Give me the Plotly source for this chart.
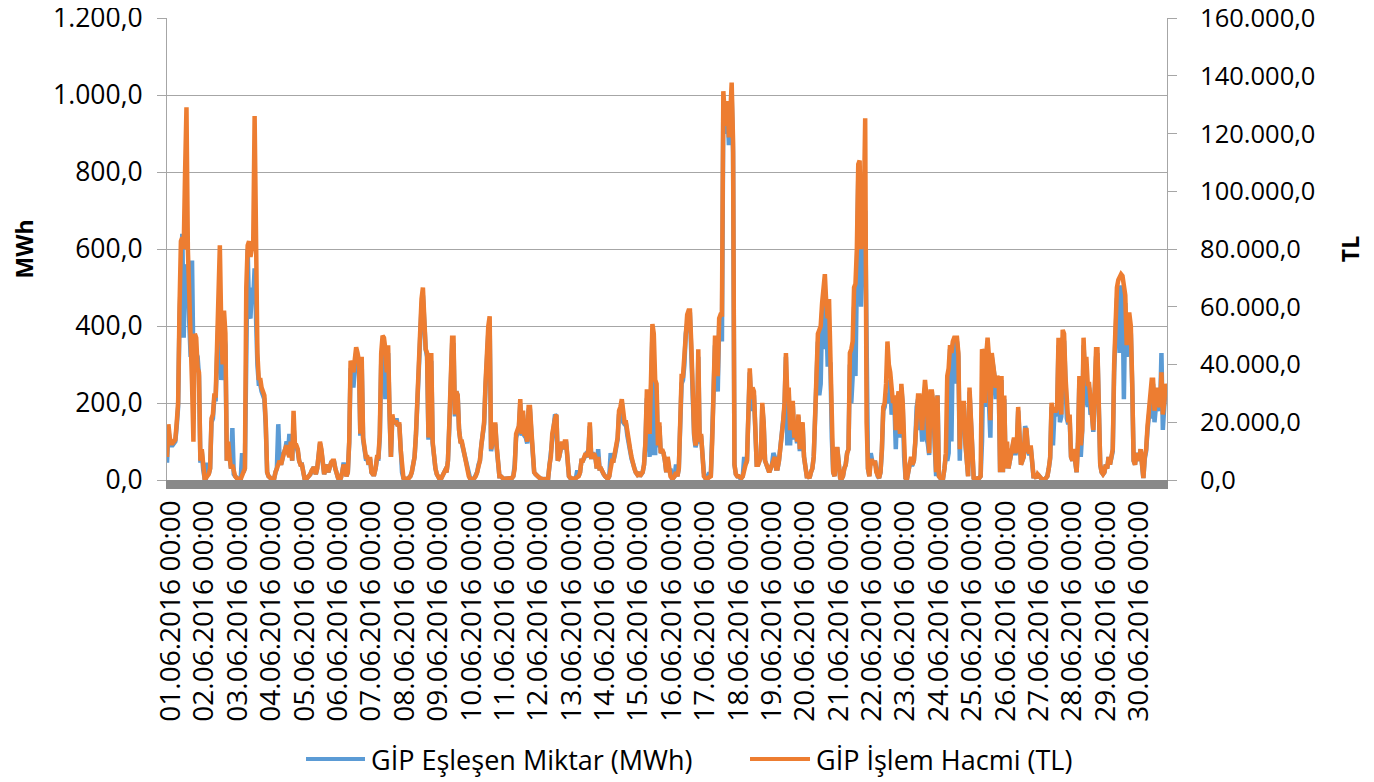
'''
GİP hourly matched volume (MWh) and trade volume (TL), June 2016
Dual axis line chart, Excel style
'''
import plotly.graph_objects as go

### Data: hourly values, one list per day ###

# GİP Eşleşen Miktar (MWh)
MWH_D01 = [45,130,100,90,90,95,100,140,190,420,600,640,370,535,560,540,410,320,570,300,330,330,320,270]
MWH_D02 = [45,75,28,5,5,45,15,30,150,160,210,210,320,420,420,260,290,380,350,50,95,60,30,135]
MWH_D03 = [15,10,5,2,2,2,70,20,30,480,600,430,420,500,470,550,370,300,250,250,230,220,210,140]
MWH_D04 = [20,10,5,3,2,3,20,30,145,50,40,60,70,80,100,70,120,100,50,140,85,85,75,50]
MWH_D05 = [40,40,15,2,2,5,10,15,25,30,30,15,30,75,95,75,30,15,30,40,20,40,45,45]
MWH_D06 = [50,30,10,5,3,5,20,45,30,10,20,95,290,280,240,300,330,320,300,115,300,105,75,55]
MWH_D07 = [55,40,55,20,15,15,30,55,55,110,300,350,340,210,270,330,170,60,160,150,145,160,140,145]
MWH_D08 = [75,20,5,3,2,3,5,10,20,40,60,115,190,320,400,450,480,370,340,320,105,240,310,95]
MWH_D09 = [50,30,15,5,2,3,10,20,25,20,50,140,280,350,350,165,230,220,130,100,95,80,60,50]
MWH_D10 = [30,10,3,2,2,5,10,20,40,50,90,135,145,240,350,380,400,75,95,115,145,85,30,10]
MWH_D11 = [10,5,3,3,3,3,5,3,5,10,40,110,125,135,200,115,170,115,110,95,180,180,120,45]
MWH_D12 = [20,15,10,8,5,3,2,2,2,2,3,40,60,115,150,170,165,50,60,80,95,80,95,95]
MWH_D13 = [30,10,5,3,3,3,5,25,10,20,50,50,60,65,60,75,140,60,60,65,60,30,80,30]
MWH_D14 = [30,20,15,10,5,3,10,70,50,50,65,85,105,170,180,200,150,145,145,115,85,75,55,40]
MWH_D15 = [30,20,15,20,10,15,20,40,95,210,220,60,300,380,70,70,230,85,140,70,75,70,50,20]
MWH_D16 = [55,20,30,5,5,10,40,10,30,140,250,260,300,380,420,430,430,330,170,115,85,100,320,95]
MWH_D17 = [115,60,20,5,3,5,20,10,95,230,350,280,230,400,410,360,980,930,900,960,870,930,1000,850]
MWH_D18 = [40,15,10,10,5,5,10,60,40,50,240,280,200,180,220,145,40,40,50,60,190,145,50,40]
MWH_D19 = [30,20,30,40,70,60,30,30,50,80,115,145,190,320,90,230,90,195,190,105,145,95,165,75]
MWH_D20 = [125,145,60,30,10,10,5,20,30,60,190,290,360,220,250,430,480,340,440,300,300,300,110,20]
MWH_D21 = [10,80,80,20,5,3,10,30,40,70,80,300,200,270,450,270,580,780,800,450,600,560,700,140]
MWH_D22 = [30,10,70,50,40,50,20,10,5,20,75,180,190,220,220,200,260,170,190,200,80,190,210,110]
MWH_D23 = [240,190,60,5,2,20,40,40,40,50,95,190,210,130,160,100,200,240,110,95,65,220,220,190]
MWH_D24 = [85,10,220,10,5,5,5,30,65,50,70,340,100,350,360,250,360,320,50,190,190,190,95,40]
MWH_D25 = [10,230,145,40,5,3,3,3,5,10,100,320,190,310,360,200,110,320,290,270,210,260,250,20]
MWH_D26 = [260,20,210,30,80,30,50,75,95,105,65,85,180,125,40,50,60,140,125,75,65,85,55,10]
MWH_D27 = [10,5,15,10,3,2,2,2,5,10,30,55,190,90,170,170,180,350,150,165,370,360,260,160]
MWH_D28 = [145,160,60,50,75,50,20,95,260,60,125,350,270,210,190,240,170,175,125,220,320,330,190,40]
MWH_D29 = [20,15,20,40,30,60,40,60,75,280,430,470,490,330,500,500,210,460,320,400,410,380,240,50]
MWH_D30 = [40,70,60,50,80,30,5,55,75,130,170,200,160,250,150,190,230,190,180,330,130,190,240,220]

# GİP İşlem Hacmi, in thousand TL
TLK_D01 = [8.0,19.3,14.7,12.7,12.7,13.3,14.0,20.0,26.7,60.0,82.7,84.0,80.0,106.7,129.1,80.0,66.7,50.7,33.3,13.3,50.7,49.3,38.7,37.3]
TLK_D02 = [6.7,10.7,4.0,0.7,0.7,1.3,2.0,4.0,21.3,22.7,29.3,29.3,44.0,57.3,81.3,53.3,40.0,58.7,50.7,6.7,13.3,8.0,4.0,5.3]
TLK_D03 = [2.0,1.3,0.7,0.3,0.3,0.3,1.3,2.7,4.0,66.7,81.3,82.7,77.3,80.0,82.7,126.1,74.7,44.0,34.7,35.3,32.0,30.7,29.3,20.0]
TLK_D04 = [2.7,1.3,0.7,0.4,0.3,0.4,2.7,4.0,5.3,6.7,5.3,8.0,9.3,10.7,12.0,9.3,8.0,13.3,6.7,24.0,12.0,12.0,10.7,6.7]
TLK_D05 = [5.3,5.3,2.0,0.3,0.3,0.7,1.3,2.0,3.3,4.0,4.0,2.0,4.0,10.7,13.3,10.7,4.0,2.0,4.0,5.3,2.7,5.3,6.0,6.7]
TLK_D06 = [6.7,4.0,1.3,0.7,0.4,0.7,2.7,5.3,4.0,1.3,2.7,13.3,41.3,40.0,37.3,42.7,46.0,44.0,41.3,16.0,42.7,14.7,10.7,8.0]
TLK_D07 = [8.0,5.3,8.0,2.7,2.0,2.0,4.0,8.0,8.0,16.0,44.0,50.0,49.3,45.3,37.3,46.7,24.0,8.0,22.7,20.0,20.0,20.0,18.7,20.0]
TLK_D08 = [10.7,2.7,0.7,0.4,0.3,0.4,0.7,1.3,2.7,5.3,8.0,16.0,26.7,44.0,56.0,62.7,66.7,56.0,45.3,44.0,14.7,33.3,44.0,13.3]
TLK_D09 = [6.7,4.0,2.0,0.7,0.3,0.4,1.3,2.7,3.3,2.7,6.7,20.0,40.0,49.3,49.3,22.7,30.7,29.3,17.3,13.3,13.3,10.7,8.0,6.7]
TLK_D10 = [4.0,1.3,0.4,0.3,0.3,0.7,1.3,2.7,5.3,6.7,12.0,18.7,20.0,33.3,49.3,53.3,56.7,10.7,13.3,16.0,20.0,12.0,4.0,1.3]
TLK_D11 = [1.3,0.7,0.4,0.4,0.4,0.4,0.7,0.4,0.7,1.3,4.0,16.0,17.3,18.7,28.0,16.0,24.0,16.0,16.0,13.3,25.3,25.3,17.3,6.7]
TLK_D12 = [2.7,2.0,1.3,1.1,0.7,0.4,0.3,0.3,0.3,0.3,0.4,5.3,8.0,16.0,20.0,21.3,22.7,6.7,8.0,10.7,13.3,10.7,13.3,13.3]
TLK_D13 = [4.0,1.3,0.7,0.4,0.4,0.4,0.7,1.3,1.3,2.7,6.7,6.7,8.0,9.3,8.0,10.7,20.0,8.0,8.0,9.3,8.0,4.0,8.0,4.0]
TLK_D14 = [4.0,2.7,2.0,1.3,0.7,0.4,1.3,5.3,6.7,6.7,9.3,12.0,14.7,24.0,25.3,28.0,21.3,20.0,20.0,16.0,12.0,10.7,8.0,5.3]
TLK_D15 = [4.0,2.7,2.0,2.7,1.3,2.0,2.7,5.3,13.3,30.7,30.7,16.0,44.0,54.0,50.7,34.7,33.3,12.0,20.0,9.3,10.7,9.3,6.7,2.7]
TLK_D16 = [8.0,2.7,1.3,0.7,0.7,1.3,2.7,1.3,4.0,20.0,36.0,36.0,45.3,53.3,57.3,58.7,58.7,46.7,24.0,16.0,12.0,14.7,45.3,13.3]
TLK_D17 = [16.0,8.0,1.3,0.7,0.4,0.7,1.3,1.3,13.3,32.0,49.3,49.3,36.0,56.0,57.3,57.3,134.7,126.7,122.7,131.3,118.7,126.7,137.7,117.3]
TLK_D18 = [5.3,2.0,1.3,1.3,0.7,0.7,1.3,4.0,5.3,6.7,33.3,38.7,28.0,32.0,30.7,20.0,5.3,5.3,6.7,8.0,26.7,20.0,6.7,5.3]
TLK_D19 = [4.0,2.7,4.0,5.3,6.7,8.0,4.0,4.0,6.7,10.7,16.0,20.0,26.7,44.0,29.3,32.0,17.3,26.7,26.7,14.7,20.0,13.3,22.7,10.7]
TLK_D20 = [17.3,20.0,8.0,4.0,1.3,1.3,0.7,2.7,4.0,8.0,26.7,40.0,50.7,52.0,53.3,61.3,66.7,71.3,61.3,56.0,62.7,44.0,16.0,2.7]
TLK_D21 = [1.3,10.7,10.7,2.7,0.7,0.4,1.3,4.0,5.3,9.3,10.7,44.0,45.3,48.0,66.7,68.0,80.0,109.3,110.7,80.0,86.7,93.3,125.3,20.0]
TLK_D22 = [4.0,1.3,6.7,6.7,5.3,6.7,2.7,1.3,0.7,2.7,10.7,25.3,26.7,33.3,48.0,40.0,37.3,32.0,26.7,29.3,17.3,26.7,30.7,16.0]
TLK_D23 = [33.3,26.7,8.0,0.7,0.3,2.7,5.3,8.0,5.3,6.7,13.3,26.7,29.3,29.3,22.7,17.3,28.0,34.7,29.3,13.3,9.3,30.7,30.7,26.7]
TLK_D24 = [12.0,2.7,29.3,1.3,0.7,0.7,0.7,4.0,9.3,36.0,38.7,46.7,44.0,48.0,49.3,49.3,49.3,44.0,10.7,26.7,26.7,26.7,13.3,5.3]
TLK_D25 = [1.3,32.0,20.0,5.3,0.7,0.4,0.4,0.4,0.7,1.3,45.3,44.0,26.7,42.7,49.3,42.7,20.7,44.0,40.0,37.3,32.0,36.0,34.7,2.7]
TLK_D26 = [36.0,2.7,29.3,4.0,13.3,4.0,6.7,10.7,13.3,14.7,9.3,12.0,25.3,17.3,5.3,6.7,8.0,17.3,17.3,10.7,9.3,12.0,8.0,1.3]
TLK_D27 = [1.3,0.7,2.0,1.3,0.4,0.3,0.3,0.3,0.7,1.3,4.0,8.0,26.7,24.0,24.0,24.0,25.3,49.3,26.7,22.7,52.0,50.7,36.0,22.7]
TLK_D28 = [20.0,22.7,8.0,6.7,10.7,6.7,2.7,13.3,36.0,12.0,17.3,49.3,37.3,42.7,33.3,33.3,26.7,24.0,17.3,30.7,45.3,45.3,26.7,5.3]
TLK_D29 = [2.7,2.0,2.7,5.3,4.0,8.0,5.3,8.0,10.7,40.0,61.3,66.7,69.3,70.7,71.3,70.7,66.7,64.0,46.7,57.3,57.3,53.3,33.3,6.7]
TLK_D30 = [5.3,9.3,8.0,6.7,10.7,4.0,0.7,8.0,10.7,18.7,24.0,29.3,34.7,34.7,24.0,26.7,32.0,26.7,25.3,37.3,22.7,26.7,33.3,30.7]

# Day labels on the category axis
DAYS = ["%02d.06.2016" % d for d in range(1, 31)]

SERIES_MWH = "GİP Eşleşen Miktar (MWh)"
SERIES_TL  = "GİP İşlem Hacmi (TL)"

# Axis ticks
MWH_TICKS = [0, 200, 400, 600, 800, 1000, 1200]
TL_TICKS  = [0, 20000, 40000, 60000, 80000, 100000, 120000, 140000, 160000]

### Styles ###
BLUE      = "#5B9BD5"
ORANGE    = "#ED7D31"
GRID      = "#A6A6A6"
TICKGRAY  = "#898989"
FONT      = "Open Sans"

### Build the hourly series ###
mwh_days = [MWH_D01, MWH_D02, MWH_D03, MWH_D04, MWH_D05, MWH_D06, MWH_D07, MWH_D08, MWH_D09, MWH_D10,
            MWH_D11, MWH_D12, MWH_D13, MWH_D14, MWH_D15, MWH_D16, MWH_D17, MWH_D18, MWH_D19, MWH_D20,
            MWH_D21, MWH_D22, MWH_D23, MWH_D24, MWH_D25, MWH_D26, MWH_D27, MWH_D28, MWH_D29, MWH_D30]
tlk_days = [TLK_D01, TLK_D02, TLK_D03, TLK_D04, TLK_D05, TLK_D06, TLK_D07, TLK_D08, TLK_D09, TLK_D10,
            TLK_D11, TLK_D12, TLK_D13, TLK_D14, TLK_D15, TLK_D16, TLK_D17, TLK_D18, TLK_D19, TLK_D20,
            TLK_D21, TLK_D22, TLK_D23, TLK_D24, TLK_D25, TLK_D26, TLK_D27, TLK_D28, TLK_D29, TLK_D30]

mwh   = [v for day in mwh_days for v in day]
tl    = [v * 1000 for day in tlk_days for v in day]      # thousand TL -> TL
hours = list(range(len(mwh)))
stamp = ["%s %02d:00" % (DAYS[h // 24], h % 24) for h in hours]

tick_vals = [i * 24 for i in range(len(DAYS))]
tick_text = [d + " 00:00" for d in DAYS]

### Figure ###
fig = go.Figure()
fig.add_trace(go.Scatter(x=hours, y=mwh, name=SERIES_MWH, mode="lines",
                         line=dict(color=BLUE, width=4.5), text=stamp,
                         hovertemplate="%{text}<br>%{y:,.1f} MWh<extra></extra>"))
fig.add_trace(go.Scatter(x=hours, y=tl, name=SERIES_TL, mode="lines", yaxis="y2",
                         line=dict(color=ORANGE, width=4.5), text=stamp,
                         hovertemplate="%{text}<br>%{y:,.1f} TL<extra></extra>"))

# Excel-like legend below the axis labels: long line samples, drawn in paper coords
LEG_Y = -0.604
legend_items = [(SERIES_MWH, BLUE, 0.139, 0.198), (SERIES_TL, ORANGE, 0.583, 0.643)]
for name, color, x0, x1 in legend_items:
    fig.add_shape(type="line", xref="paper", yref="paper", x0=x0, x1=x1, y0=LEG_Y, y1=LEG_Y,
                  line=dict(color=color, width=4))
    fig.add_annotation(xref="paper", yref="paper", x=x1 + 0.004, y=LEG_Y, text=name,
                       showarrow=False, xanchor="left", yanchor="middle",
                       font=dict(size=27, color="black"))

# the page body has an 8 px margin, so the figure is 8 px smaller than the window
fig.update_layout(
    width=1366, height=774,
    margin=dict(l=159, r=207, t=10, b=302, autoexpand=False),
    paper_bgcolor="white", plot_bgcolor="white",
    separators=",.",
    showlegend=False,
    font=dict(family=FONT, size=26, color="black"),
    xaxis=dict(range=[0, len(mwh) - 1], tickmode="array", tickvals=tick_vals, ticktext=tick_text,
               tickangle=-90, tickfont=dict(size=28), ticks="outside", ticklen=8, tickcolor=TICKGRAY,
               ticklabelshift=4,
               showline=True, linecolor=TICKGRAY, linewidth=1, showgrid=False, zeroline=False,
               automargin=False,
               minor=dict(dtick=1, tick0=0, ticks="outside", ticklen=8, tickcolor=TICKGRAY,
                          tickwidth=1.5, showgrid=False)),
    yaxis=dict(range=[0, 1200.5], tickmode="array", tickvals=MWH_TICKS, tickformat=",.1f",
               tickfont=dict(size=26.5), ticklabeloverflow="allow",
               showgrid=True, gridcolor=GRID, gridwidth=1.3, showline=True, linecolor=GRID,
               ticks="outside", ticklen=9, tickcolor=GRID, zeroline=False, automargin=False,
               ticklabelstandoff=9,
               title=dict(text="<b>MWh</b>", font=dict(size=23), standoff=22)),
    yaxis2=dict(range=[0, 160060], tickmode="array", tickvals=TL_TICKS, tickformat=",.1f",
                tickfont=dict(size=25.5), ticklabeloverflow="allow",
                overlaying="y", side="right", showgrid=False, showline=True, linecolor=GRID,
                ticks="outside", ticklen=9, tickcolor=GRID, zeroline=False, automargin=False,
                ticklabelstandoff=18,
                title=dict(text="<b>TL</b>", font=dict(size=23), standoff=28)),
)

fig.write_html("out.html")
